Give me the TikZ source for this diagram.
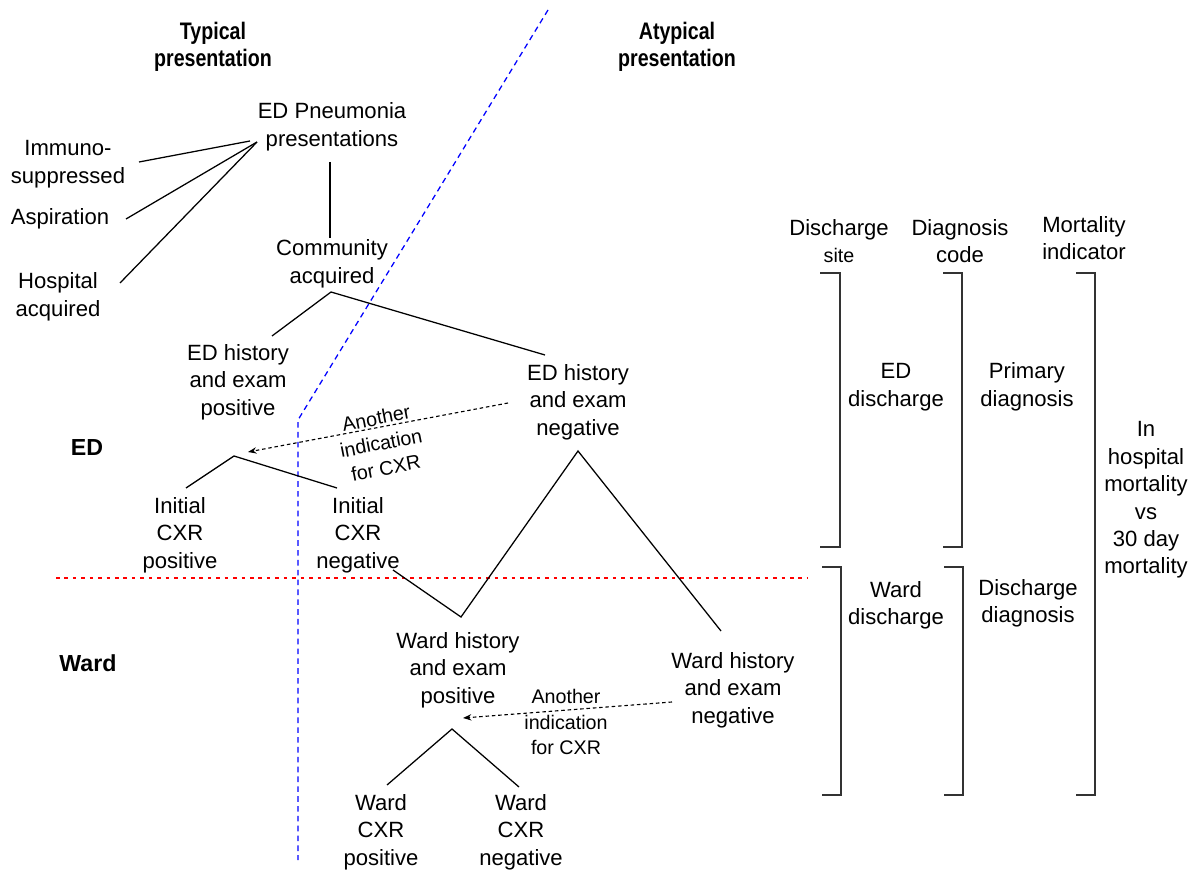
\documentclass[tikz,border=0pt]{standalone}
\usepackage{fontspec}
\setmainfont{Liberation Sans}
\newfontfamily\headfont[FakeStretch=0.82]{Liberation Sans}
\usetikzlibrary{arrows.meta}
\definecolor{splitblue}{RGB}{0,0,255}
\definecolor{splitred}{RGB}{255,0,0}
\definecolor{bracketgray}{RGB}{51,51,51}

\tikzset{
  txt/.style={align=center, inner sep=0pt, font=\fontsize{15.7}{19.5}\selectfont},
  head/.style={align=center, inner sep=0pt, font=\headfont\bfseries\fontsize{17}{19.5}\selectfont},
  stage/.style={align=center, inner sep=0pt, font=\bfseries\fontsize{16.5}{19.5}\selectfont},
  note/.style={align=center, inner sep=0pt, font=\fontsize{14}{18}\selectfont},
  link/.style={draw=black, line width=0.9pt},
  hint/.style={draw=black, line width=0.8pt, dash pattern=on 2.5pt off 2pt, -{Stealth[length=6pt,width=4.5pt]}},
  bracket/.style={draw=bracketgray, line width=1.3pt},
}

\begin{document}
\begin{tikzpicture}[x=0.025cm, y=-0.025cm]

\useasboundingbox (0,0) rectangle (1203,872);

% Split lines
\draw[splitblue, line width=0.9pt, dash pattern=on 4pt off 3pt] (548,10) -- (298,420) -- (298,860);
\draw[splitred, line width=0.9pt, dash pattern=on 2.5pt off 3.5pt] (56,578) -- (808,578);

% Headings
\node[head] (typical) at (213,47) {Typical\\presentation};
\node[head] (atypical) at (677,47) {Atypical\\presentation};
\node[stage] (edlab) at (87,448) {ED};
\node[stage] (wardlab) at (88,663) {Ward};

% Presentations
\node[txt] (pneu) at (332,127) {ED Pneumonia\\presentations};
\node[txt] (imm) at (68,164) {Immuno-\\suppressed};
\node[txt] (asp) at (60,219) {Aspiration};
\node[txt] (hosp) at (58,297) {Hospital\\acquired};
\node[txt] (comm) at (332,264) {Community\\acquired};

% ED stage
\node[txt] (edpos) at (238,382) {ED history\\and exam\\positive};
\node[txt] (edneg) at (578,402) {ED history\\and exam\\negative};
\node[txt] (cxrpos) at (180,535) {Initial\\CXR\\positive};
\node[txt] (cxrneg) at (358,535) {Initial\\CXR\\negative};
\node[note, rotate=11] (edhint) at (381,443) {Another\\indication\\for CXR};

% Ward stage
\node[txt] (wardpos) at (458,670) {Ward history\\and exam\\positive};
\node[txt] (wardneg) at (733,690) {Ward history\\and exam\\negative};
\node[txt] (wcxrpos) at (381,832) {Ward\\CXR\\positive};
\node[txt] (wcxrneg) at (521,832) {Ward\\CXR\\negative};
\node[note] (wardhint) at (566,722) {Another\\indication\\for CXR};

% Outcome columns
\node[txt] (site) at (839,241) {Discharge\\{\fontsize{14}{19.5}\selectfont site}};
\node[txt] (code) at (960,241) {Diagnosis\\code};
\node[txt] (mort) at (1084,238) {Mortality\\indicator};
\node[txt] (eddis) at (896,387) {ED\\discharge};
\node[txt] (prim) at (1027,387) {Primary\\diagnosis};
\node[txt] (warddis) at (896,605) {Ward\\discharge};
\node[txt] (disdiag) at (1028,603) {Discharge\\diagnosis};
\node[txt] (inhosp) at (1146,500) {In\\hospital\\mortality\\vs\\30 day\\mortality};

% Line ends
\coordinate (pneufanA) at (250,141);
\coordinate (pneufan) at (257,142);
\coordinate (immend) at (139,162);
\coordinate (aspend) at (126,219);
\coordinate (hospend) at (120,283);
\coordinate (pneubot) at (330,162);
\coordinate (commtop) at (330,238);
\coordinate (commfork) at (331,292);
\coordinate (edposend) at (272,336);
\coordinate (ednegend) at (545,355);
\coordinate (cxrfork) at (234,456);
\coordinate (cxrposend) at (186,488);
\coordinate (cxrnegend) at (337,488);
\coordinate (cxrnegout) at (393,570);
\coordinate (wardposdip) at (461,617);
\coordinate (ednegpeak) at (578,451);
\coordinate (wardnegend) at (721,631);
\coordinate (edhintfrom) at (508,403);
\coordinate (edhintto) at (248,452);
\coordinate (wardhintfrom) at (672,702);
\coordinate (wardhintto) at (463,718);
\coordinate (wardfork) at (452,729);
\coordinate (wcxrposend) at (387,785);
\coordinate (wcxrnegend) at (519,787);

% Tree
\draw[link] (immend) -- (pneufanA);
\draw[link] (aspend) -- (pneufan);
\draw[link] (hospend) -- (pneufan);
\draw[link] (pneubot) -- (commtop);
\draw[link] (edposend) -- (commfork) -- (ednegend);
\draw[link] (cxrposend) -- (cxrfork) -- (cxrnegend);
\draw[link] (cxrnegout) -- (wardposdip) -- (ednegpeak) -- (wardnegend);
\draw[link] (wcxrposend) -- (wardfork) -- (wcxrnegend);

% Another indication
\draw[hint] (edhintfrom) -- (edhintto);
\draw[hint] (wardhintfrom) -- (wardhintto);

% Brackets
\draw[bracket] (820,273) -- (840,273) -- (840,547) -- (820,547);
\draw[bracket] (822,567) -- (841,567) -- (841,795) -- (822,795);
\draw[bracket] (943,273) -- (962,273) -- (962,547) -- (943,547);
\draw[bracket] (944,567) -- (963,567) -- (963,795) -- (944,795);
\draw[bracket] (1076,273) -- (1095,273) -- (1095,795) -- (1076,795);

\end{tikzpicture}
\end{document}
